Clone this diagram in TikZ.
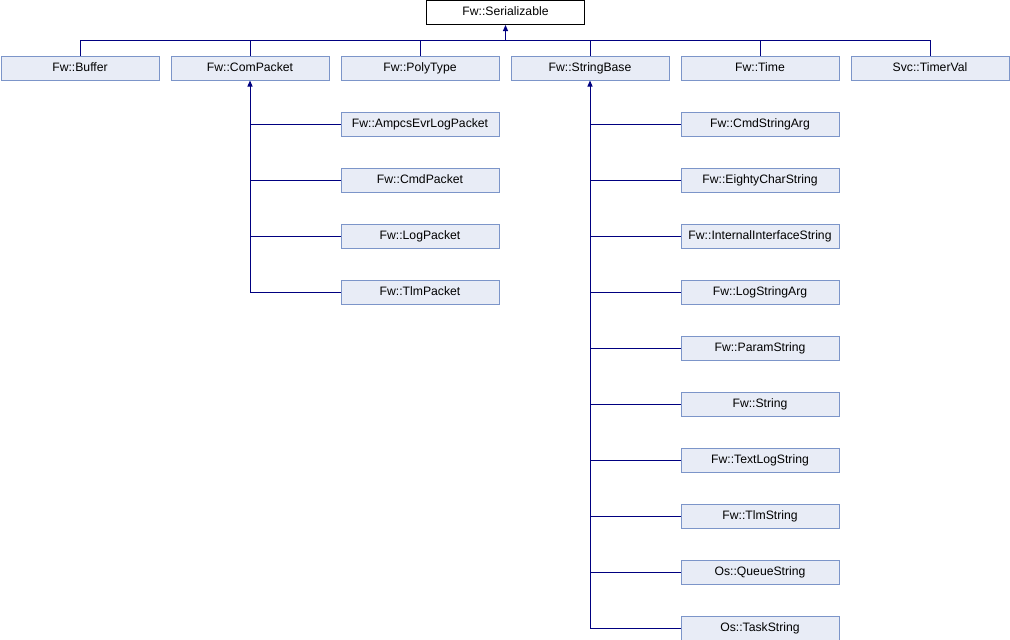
\documentclass[tikz,border=0pt]{standalone}
\usepackage{fontspec}
\setmainfont{Liberation Sans}
\usetikzlibrary{arrows.meta}
\definecolor{edgeblue}{HTML}{000080}
\definecolor{boxfill}{HTML}{E8ECF6}
\definecolor{boxline}{HTML}{7C95C9}
\tikzset{
  cls/.style={draw=boxline, fill=boxfill, line width=1pt, minimum width=158pt,
    minimum height=24pt, inner sep=0pt, text height=9pt, text depth=2.5pt,
    font=\fontsize{12.2}{14}\selectfont},
  rootcls/.style={cls, draw=black, fill=white},
  inh/.style={draw=edgeblue, line width=1pt},
  inharrow/.style={inh, -{Triangle[length=6pt,width=5pt]}}
}
\begin{document}
\begin{tikzpicture}[x=1pt,y=-1pt]
\useasboundingbox (0,0) rectangle (1010,640);
% base class
\node[rootcls] (ser) at (505.5,12.5) {Fw::Serializable};
% direct subclasses
\node[cls] (buf) at (80,68) {Fw::Buffer};
\node[cls] (com) at (250,68) {Fw::ComPacket};
\node[cls] (poly) at (420,68) {Fw::PolyType};
\node[cls] (str) at (590,68) {Fw::StringBase};
\node[cls] (time) at (760,68) {Fw::Time};
\node[cls] (tval) at (930,68) {Svc::TimerVal};
% ComPacket subclasses
\node[cls] (evr) at (420,124) {Fw::AmpcsEvrLogPacket};
\node[cls] (cmdp) at (420,180) {Fw::CmdPacket};
\node[cls] (logp) at (420,236) {Fw::LogPacket};
\node[cls] (tlmp) at (420,292) {Fw::TlmPacket};
% StringBase subclasses
\node[cls] (s1) at (760,124) {Fw::CmdStringArg};
\node[cls] (s2) at (760,180) {Fw::EightyCharString};
\node[cls] (s3) at (760,236) {Fw::InternalInterfaceString};
\node[cls] (s4) at (760,292) {Fw::LogStringArg};
\node[cls] (s5) at (760,348) {Fw::ParamString};
\node[cls] (s6) at (760,404) {Fw::String};
\node[cls] (s7) at (760,460) {Fw::TextLogString};
\node[cls] (s8) at (760,516) {Fw::TlmString};
\node[cls] (s9) at (760,572) {Os::QueueString};
\node[cls] (s10) at (760,628) {Os::TaskString};
% bus into the base class
\coordinate (bus) at (505.5,40);
\draw[inharrow] (bus) -- (ser.south);
\draw[inh] (buf.north) |- (tval.north |- bus) -- (tval.north);
\foreach \n in {com,poly,str,time}
  \draw[inh] (\n.north) -- (\n.north |- bus);
% ComPacket tree
\draw[inharrow] (com.south |- tlmp) -- (com.south);
\foreach \n in {evr,cmdp,logp,tlmp}
  \draw[inh] (\n.west) -- (com.south |- \n);
% StringBase tree
\draw[inharrow] (str.south |- s10) -- (str.south);
\foreach \n in {s1,s2,s3,s4,s5,s6,s7,s8,s9,s10}
  \draw[inh] (\n.west) -- (str.south |- \n);
\end{tikzpicture}
\end{document}
